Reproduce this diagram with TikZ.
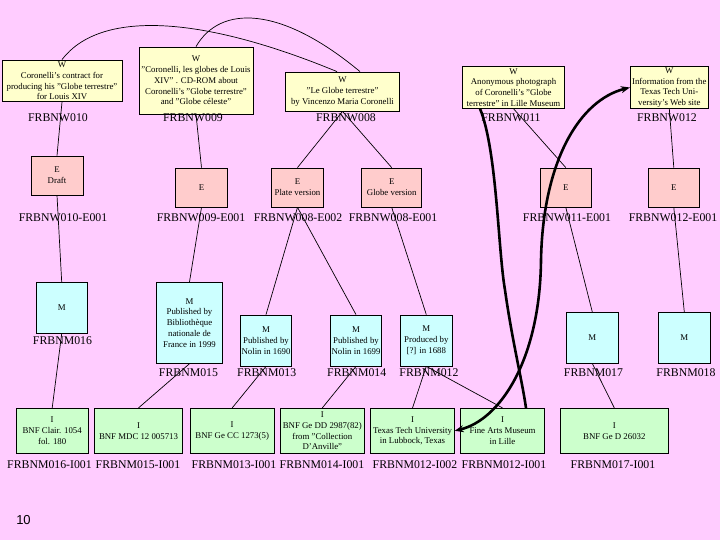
\documentclass[tikz,border=0pt]{standalone}
\usepackage{fontspec}
\setmainfont{Liberation Serif}
\newfontfamily\numfont{Liberation Sans}
\usetikzlibrary{arrows.meta}
\definecolor{bg}{RGB}{255,204,255}
\definecolor{wcol}{RGB}{255,255,204}
\definecolor{ecol}{RGB}{255,204,204}
\definecolor{mcol}{RGB}{204,255,255}
\definecolor{icol}{RGB}{204,255,204}
\begin{document}
\begin{tikzpicture}[x=1pt,y=-1pt,
  box/.style={draw=black, line width=0.8pt, align=center, inner sep=0pt, font=\fontsize{8.8}{10.8}\selectfont},
  wbox/.style={box, fill=wcol},
  ebox/.style={box, fill=ecol, minimum width=51.5pt, minimum height=39pt},
  mbox/.style={box, fill=mcol, minimum width=51.5pt, minimum height=51pt},
  ibox/.style={box, fill=icol, minimum height=45pt},
  lbl/.style={font=\fontsize{11.8}{13}\selectfont, inner sep=0pt},
  conn/.style={line width=0.7pt},
  thickc/.style={line width=2.6pt},
  bothtips/.style={arrows={Stealth[length=9pt,width=7pt]-Stealth[length=9pt,width=7pt]}}
]
\fill[bg] (0,0) rectangle (720,540);
\useasboundingbox (0,0) rectangle (720,540);

% W boxes
\node[wbox, minimum width=120pt, minimum height=41.7pt] (w010) at (62,80.8) {W\\Coronelli's contract for\\producing his "Globe terrestre"\\for Louis XIV};
\node[wbox, minimum width=114pt, minimum height=67pt] (w009) at (196,80.5) {W\\"Coronelli, les globes de Louis\\XIV" . CD-ROM about\\Coronelli's "Globe terrestre"\\and "Globe céleste"};
\node[wbox, minimum width=113.6pt, minimum height=39pt] (w008) at (342.5,91.5) {W\\"Le Globe terrestre"\\by Vincenzo Maria Coronelli};
\node[wbox, minimum width=101.6pt, minimum height=41.6pt] (w011) at (513.5,87.5) {W\\Anonymous photograph\\of Coronelli's "Globe\\terrestre" in Lille Museum};
\node[wbox, minimum width=78pt, minimum height=41.6pt] (w012) at (669.3,87.5) {W\\Information from the\\Texas Tech Uni-\\versity's Web site};

\node[lbl] (lw010) at (58,118) {FRBNW010};
\node[lbl] (lw009) at (193,118) {FRBNW009};
\node[lbl] (lw008) at (346,118) {FRBNW008};
\node[lbl] (lw011) at (511,118) {FRBNW011};
\node[lbl] (lw012) at (667,118) {FRBNW012};

% E boxes
\node[ebox, minimum width=52pt] (e010) at (57,175.5) {E\\Draft};
\node[ebox] (e009) at (201.5,187.5) {E};
\node[ebox] (e0082) at (297.5,187.5) {E\\Plate version};
\node[ebox, minimum width=60pt] (e0081) at (391.7,187.5) {E\\Globe version};
\node[ebox, minimum width=51pt] (e011) at (565.8,187.5) {E};
\node[ebox, minimum width=51pt] (e012) at (673.8,187.5) {E};

\node[lbl] (le010) at (63,218) {FRBNW010-E001};
\node[lbl] (le009) at (201,218) {FRBNW009-E001};
\node[lbl] (le0082) at (298,218) {FRBNW008-E002};
\node[lbl] (le0081) at (393,218) {FRBNW008-E001};
\node[lbl] (le011) at (567,218) {FRBNW011-E001};
\node[lbl] (le012) at (673,218) {FRBNW012-E001};

% M boxes
\node[mbox] (m016) at (61.7,307.8) {M};
\node[mbox, minimum width=65.6pt, minimum height=81pt] (m015) at (189.5,322.8) {M\\Published by\\Bibliothèque\\nationale de\\France in 1999};
\node[mbox] (m013) at (266,340.5) {M\\Published by\\Nolin in 1690};
\node[mbox] (m014) at (356,340.5) {M\\Published by\\Nolin in 1699};
\node[mbox, minimum width=52pt] (m012) at (426.3,340.5) {M\\Produced by\\{[?]} in 1688};
\node[mbox, minimum width=52pt, minimum height=50.7pt] (m017) at (592.3,337.7) {M};
\node[mbox, minimum width=52pt, minimum height=50.7pt] (m018) at (684.3,337.7) {M};

\node[lbl] (lm016) at (62.5,341) {FRBNM016};
\node[lbl] (lm015) at (188.5,373) {FRBNM015};
\node[lbl] (lm013) at (266.7,373) {FRBNM013};
\node[lbl] (lm014) at (356.7,373) {FRBNM014};
\node[lbl] (lm012) at (429,373) {FRBNM012};
\node[lbl] (lm017) at (593.5,373) {FRBNM017};
\node[lbl] (lm018) at (686,373) {FRBNM018};

% I boxes
\node[ibox, minimum width=72.3pt] (i016) at (52.2,430.8) {I\\BNF Clair. 1054\\fol. 180};
\node[ibox, minimum width=88.4pt] (i015) at (138.5,430.8) {I\\BNF MDC 12 005713};
\node[ibox, minimum width=84.3pt] (i013) at (232.2,430.8) {I\\BNF Ge CC 1273(5)};
\node[ibox, minimum width=84pt] (i014) at (322.3,430.8) {I\\BNF Ge DD 2987(82)\\from "Collection\\D'Anville"};
\node[ibox, minimum width=83.6pt] (i0122) at (412.5,430.8) {I\\Texas Tech University\\in Lubbock, Texas};
\node[ibox, minimum width=83.6pt] (i0121) at (502.5,430.8) {I\\Fine Arts Museum\\in Lille};
\node[ibox, minimum width=108pt] (i017) at (614.3,430.8) {I\\BNF Ge D 26032};

\node[lbl] (li016) at (49.5,465) {FRBNM016-I001};
\node[lbl] (li015) at (138,465) {FRBNM015-I001};
\node[lbl] (li013) at (234,465) {FRBNM013-I001};
\node[lbl] (li014) at (322,465) {FRBNM014-I001};
\node[lbl] (li0122) at (415,465) {FRBNM012-I002};
\node[lbl] (li0121) at (504,465) {FRBNM012-I001};
\node[lbl] (li017) at (613,465) {FRBNM017-I001};

\node[font=\numfont\fontsize{13}{15}\selectfont, inner sep=0pt] (pg) at (23.5,520) {10};

% thin connectors
\draw[conn] (w010.south) -- (e010.north);
\draw[conn] (e010.south) -- (m016.north);
\draw[conn] (m016.south) -- (i016.north);
\draw[conn] (w009.south) -- (e009.north);
\draw[conn] (e009.south) -- (m015.north);
\draw[conn] (m015.south) -- (i015.north);
\draw[conn] (w008.south) -- (e0082.north);
\draw[conn] (w008.south) -- (e0081.north);
\draw[conn] (e0082.south) -- (m013.north);
\draw[conn] (e0082.south) -- (m014.north);
\draw[conn] (e0081.south) -- (m012.north);
\draw[conn] (m013.south) -- (i013.north);
\draw[conn] (m014.south) -- (i014.north);
\draw[conn] (m012.south) -- (i0122.north);
\draw[conn] (m012.south) -- (i0121.north);
\draw[conn] (w011.south) -- (e011.north);
\draw[conn] (e011.south) -- (m017.north);
\draw[conn] (m017.south) -- (i017.north);
\draw[conn] (w012.south) -- (e012.north);
\draw[conn] (e012.south) -- (m018.north);

% arcs between works
\draw[conn] (w010.north) .. controls (100,10) and (200,15) .. ([xshift=-5.5pt]w008.north);
\draw[conn] (w009.north) .. controls (220,5) and (280,5) .. ([xshift=17.5pt]w008.north);

% thick connectors
\draw[thickc] ([xshift=-33.5pt]w011.south) .. controls (497,150) and (498,250) .. (505,290) .. controls (512,340) and (522,380) .. ([xshift=23.5pt]i0121.north);
\draw[thickc, bothtips] (i0122.east) .. controls (500,420) and (540,360) .. (541,260) .. controls (543,160) and (580,100) .. (w012.west);
\end{tikzpicture}
\end{document}
